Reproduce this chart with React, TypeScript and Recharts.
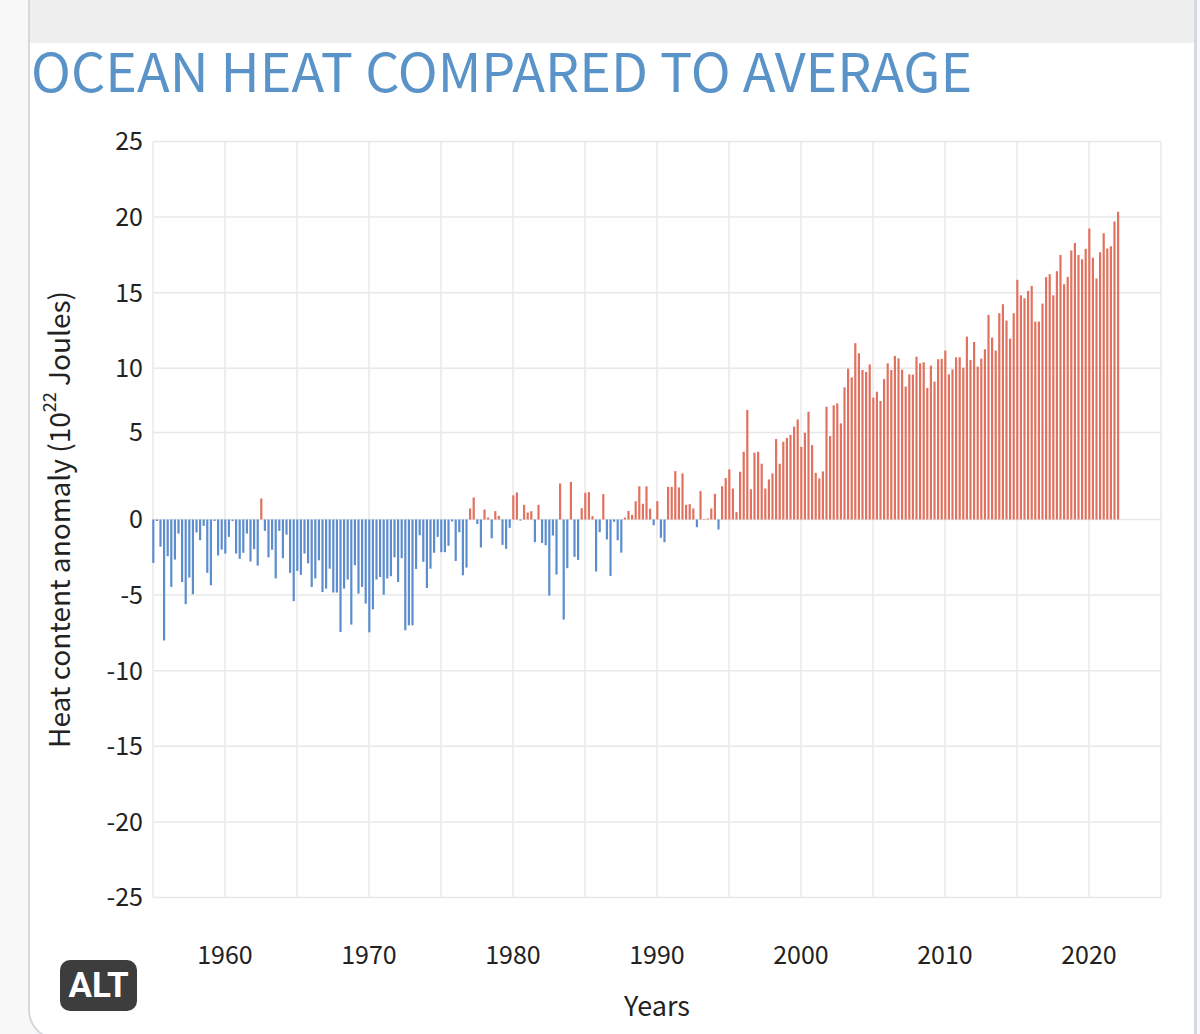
import { Bar, BarChart, CartesianGrid, Cell, Label, XAxis, YAxis } from "recharts";

const START_YEAR = 1955;

// quarterly anomaly (10^22 J)
const anomaly1955 = [
  -2.87, -0.1, -1.8, -8.0, -2.43, -4.46, -2.65, -0.93, -4.13, -5.6, -3.84, -4.94, -0.86, -1.37, -0.42, -3.53, -4.35, -0.1, -2.38, -1.99,
  -2.25, -1.15, -0.1, -2.25, -2.6, -2.2, -0.93, -2.78, -1.96, -3.05, 1.39, -0.75, -2.5, -2.0, -3.9, -0.75, -2.56, -1.0, -3.53, -5.4,
  -3.4, -3.66, -2.25, -2.9, -4.46, -3.9, -2.7, -4.8, -4.57, -3.25, -4.83, -4.83, -7.44, -4.57, -3.97, -6.95, -3.02, -4.9, -4.46, -5.56,
  -7.46, -5.94, -3.97, -3.8, -4.97, -3.9, -3.75, -2.5, -4.13, -2.56, -7.33, -7.0, -7.0, -3.27, -1.04, -2.8, -4.53, -3.25, -2.2, -1.15,
  -2.16, -2.16, -1.74, -0.13, -2.74, -0.84, -3.69, -3.18,
];
const anomaly1977 = [
  0.73, 1.46, -0.3, -1.85, 0.66, 0.13, -1.24, 0.55, 0.24, -1.68, -1.94, -0.55, 1.6, 1.79, -0.07, 0.97, 0.46, 0.55, -1.5, 0.97,
  -1.55, -1.7, -5.03, -1.06, -3.64, 2.38, -6.62, -3.22, 2.49, -2.47, -2.67, 0.75, 1.77, 1.81, 0.22, -3.44, -0.84, 1.68, -1.32, -3.73,
  -0.15, -1.37, -2.19, 0.13, 0.57, 0.31, 1.21, 2.2, 1.04, 2.19, 0.71, -0.38, 1.21, -1.21, -1.5, 2.16, 2.16, 3.2, 2.12, 3.05,
  0.97, 1.02, 0.73, -0.51, 1.88, 0.03, 0.07, 0.73, 1.7, -0.66, 2.2, 2.74, 3.31, 2.05, 0.49, 3.16, 4.48, 7.24, 2.0, 4.42,
  4.48, 3.69, 2.05, 2.65, 3.05, 5.32, 3.69,
];
const anomaly1998 = [
  5.14, 5.39, 5.6, 6.14, 6.62, 4.81, 5.74, 7.13, 4.92, 3.09, 2.72, 3.18, 7.46, 5.52, 7.55, 7.68, 6.36, 8.74, 9.98, 9.4,
  11.66, 10.99, 9.89, 9.76, 10.26, 8.06, 8.45, 7.84, 9.29, 10.33, 9.89, 10.82, 10.66, 9.91, 8.79, 9.6, 9.58, 10.77, 10.33, 10.4,
  8.7, 10.18, 9.12, 10.6, 10.62, 11.17, 9.6, 9.93, 10.73, 10.73, 10.04, 12.1, 10.55, 11.74, 10.11, 10.64, 11.26, 13.53, 12.03, 11.17,
  13.64, 14.24, 13.16, 11.96, 13.64, 15.85, 14.83, 14.64, 15.12, 15.45, 13.09, 13.09, 14.28, 16.03, 16.23, 14.83, 16.42, 17.5, 15.56, 16.05,
  17.79, 18.28, 17.5, 17.22, 17.9, 19.25, 17.31, 15.94, 17.68, 18.94, 17.92, 18.08, 19.71, 20.35,
];
const anomalies = [...anomaly1955, ...anomaly1977, ...anomaly1998];

const xTicks = [1955, 1960, 1965, 1970, 1975, 1980, 1985, 1990, 1995, 2000, 2005, 2010, 2015, 2020, 2025];
const xLabels = [1960, 1970, 1980, 1990, 2000, 2010, 2020];

// the source draws its "5" line well above where 5 would fall, so keep it there
const FIVE_TICK = 5.75;
const yTicks = [-25, -20, -15, -10, -5, 0, FIVE_TICK, 10, 15, 20, 25];

const data = anomalies.map((value, i) => ({ year: START_YEAR + i / 4, value }));

const font = '"Noto Sans CJK SC", "Noto Sans", sans-serif';
const BLUE = "#5b8dcf";
const RED = "#e2725f";

function YTitle({ viewBox }: any) {
  const cy = viewBox.y + viewBox.height / 2;
  return (
    <text
      x={58}
      y={cy}
      transform={`rotate(-90 58 ${cy})`}
      textAnchor="middle"
      dominantBaseline="central"
      fontFamily={font}
      fontSize={28}
      fill="#222"
    >
      Heat content anomaly (10
      <tspan fontSize={18} dy={-10}>22</tspan>
      <tspan dy={10}> Joules)</tspan>
    </text>
  );
}

export default function App() {
  return (
    <div style={{ position: "absolute", left: 0, top: 0, width: 1200, height: 1034, overflow: "hidden", background: "#f8f8f8", fontFamily: font }}>
      <div style={{ position: "absolute", left: 28, top: 0, width: 1169, height: 1040, boxSizing: "border-box", background: "#fff", borderLeft: "2px solid #d3d9df", borderRight: "3px solid #d3d9df", borderBottom: "2px solid #d3d9df", borderBottomLeftRadius: 30 }} />
      <div style={{ position: "absolute", left: 30, top: 0, width: 1164, height: 43, background: "#eeeeee" }} />
      <div style={{ position: "absolute", left: 31, top: 33, fontSize: 53.8, lineHeight: "72px", color: "#5a93c8", whiteSpace: "nowrap" }}>
        OCEAN HEAT COMPARED TO AVERAGE
      </div>
      <div style={{ position: "absolute", left: 0, top: 0 }}>
        <BarChart
          width={1200}
          height={1034}
          data={data}
          barSize={2.2}
          margin={{ top: 141.5, right: 39, bottom: 20, left: 93 }}
        >
          <CartesianGrid stroke="#e8e8e8" strokeWidth={1.5} />
          <XAxis
            dataKey="year"
            type="number"
            domain={[1955, 2025]}
            ticks={xTicks}
            interval={0}
            height={116.5}
            tickFormatter={(v: number) => (xLabels.includes(v) ? String(v) : "")}
            axisLine={false}
            tickLine={false}
            tickSize={0}
            tickMargin={49}
            tick={{ fontFamily: font, fontSize: 25, fill: "#222" }}
          >
            <Label value="Years" position="insideBottom" offset={-2} style={{ fontFamily: font, fontSize: 27, fill: "#222" }} />
          </XAxis>
          <YAxis
            type="number"
            domain={[-25, 25]}
            ticks={yTicks}
            interval={0}
            width={60}
            tickFormatter={(v: number) => (v === FIVE_TICK ? "5" : String(v))}
            axisLine={false}
            tickLine={false}
            tickSize={0}
            tickMargin={10}
            tick={{ fontFamily: font, fontSize: 25, fill: "#222" }}
            label={(props: any) => <YTitle {...props} />}
          />
          <Bar dataKey="value" isAnimationActive={false}>
            {data.map((d) => (
              <Cell key={d.year} fill={d.value < 0 ? BLUE : RED} />
            ))}
          </Bar>
        </BarChart>
      </div>
      <div style={{ position: "absolute", left: 60, top: 960, width: 77, height: 51, borderRadius: 10, background: "#3d3d3d", color: "#fff", fontFamily: "Roboto, sans-serif", fontWeight: 700, fontSize: 35, lineHeight: "51px", textAlign: "center" }}>
        ALT
      </div>
    </div>
  );
}
